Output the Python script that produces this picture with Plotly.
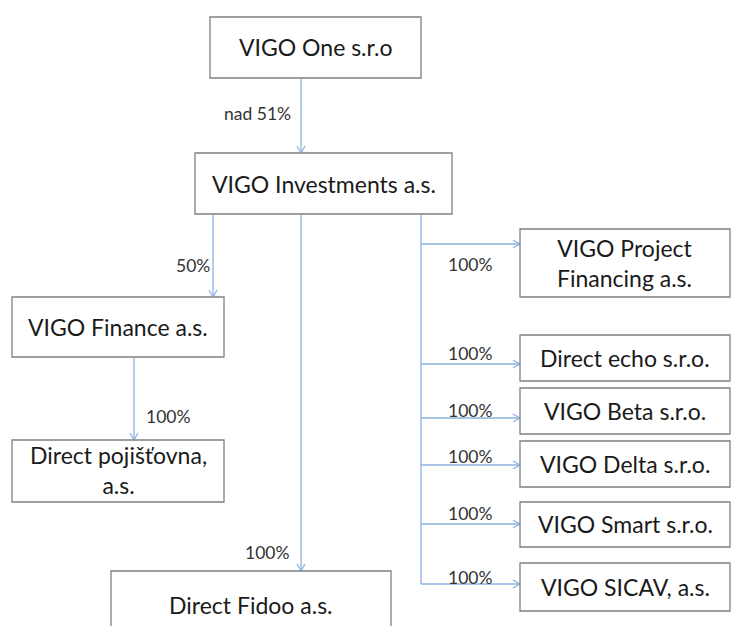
import plotly.graph_objects as go

# ---- data ----
companies = ["VIGO One s.r.o", "VIGO Investments a.s.", "VIGO Finance a.s.",
             "Direct pojišťovna,<br>a.s.", "Direct Fidoo a.s.",
             "VIGO Project<br>Financing a.s.", "Direct echo s.r.o.", "VIGO Beta s.r.o.",
             "VIGO Delta s.r.o.", "VIGO Smart s.r.o.", "VIGO SICAV, a.s."]
parents = [None, 0, 1, 2, 1, 1, 1, 1, 1, 1, 1]
shares = [None, "nad 51%", "50%", "100%", "100%", "100%", "100%", "100%", "100%", "100%", "100%"]

# ---- layout (pixel boxes: x0, x1, y0, y1) ----
boxes = [
    (210, 421, 17, 78),
    (195, 452, 153, 214),
    (12, 224, 297, 357),
    (12, 224, 440, 502),
    (111, 391, 571, 640),
    (520, 730, 229, 297),
    (520, 730, 335, 381),
    (520, 730, 388, 434),
    (520, 730, 441, 487),
    (520, 730, 502, 547),
    (520, 730, 563, 611),
]
text_y = [47, 184, 327, 470, 605, 263, 358, 411, 464, 524, 587]
vert_x = {1: 301, 2: 213, 3: 134, 4: 301}
spine_x = 421
side_arrow_y = {5: 244, 6: 364, 7: 418, 8: 465, 9: 524, 10: 584}
label_pos = {1: (257, 113), 2: (193, 265), 3: (168, 416), 4: (267, 552),
             5: (470, 264), 6: (470, 353), 7: (470, 410), 8: (470, 456),
             9: (470, 513), 10: (470, 577)}

LINE = "#8db3e2"
BORDER = "#808080"
TXT = "#1a1a1a"
FONT = "Lato, 'Open Sans', sans-serif"
W, H = 732, 626

fig = go.Figure()
shapes = []

def arrowhead(x, y, direction):
    s, w = 7, 4
    if direction == "down":
        return f"M {x-w},{y-s} L {x},{y} L {x+w},{y-s}"
    return f"M {x-s},{y-w} L {x},{y} L {x-s},{y+w}"

for i, (x0, x1, y0, y1) in enumerate(boxes):
    shapes.append(dict(type="rect", x0=x0, x1=x1, y0=y0, y1=y1,
                       line=dict(color=BORDER, width=1.3), fillcolor="white", layer="above"))
    fig.add_annotation(x=(x0 + x1) / 2, y=text_y[i], text=companies[i], showarrow=False,
                       font=dict(family=FONT, size=23, color=TXT), align="center")

for i, p in enumerate(parents):
    if p is None:
        continue
    pb = boxes[p]
    cb = boxes[i]
    if i in vert_x:
        x = vert_x[i]
        shapes.append(dict(type="line", x0=x, x1=x, y0=pb[3], y1=cb[2],
                           line=dict(color=LINE, width=1.3), layer="below"))
        shapes.append(dict(type="path", path=arrowhead(x, cb[2], "down"),
                           line=dict(color=LINE, width=1.3), layer="below"))
    else:
        y = side_arrow_y[i]
        shapes.append(dict(type="line", x0=spine_x, x1=cb[0], y0=y, y1=y,
                           line=dict(color=LINE, width=1.3), layer="below"))
        shapes.append(dict(type="path", path=arrowhead(cb[0], y, "right"),
                           line=dict(color=LINE, width=1.3), layer="below"))
    lx, ly = label_pos[i]
    fig.add_annotation(x=lx, y=ly, text=shares[i], showarrow=False,
                       font=dict(family=FONT, size=17.5, color="#333333"))

spine_bottom = max(side_arrow_y.values())
shapes.append(dict(type="line", x0=spine_x, x1=spine_x, y0=boxes[1][3], y1=spine_bottom,
                   line=dict(color=LINE, width=1.3), layer="below"))

fig.update_layout(
    width=W, height=H, margin=dict(l=0, r=0, t=0, b=0),
    paper_bgcolor="white", plot_bgcolor="white", shapes=shapes,
    xaxis=dict(range=[0, W], visible=False, fixedrange=True),
    yaxis=dict(range=[H, 0], visible=False, fixedrange=True),
    showlegend=False,
)
fig.write_html("out.html",
               post_script="document.body.style.margin='0';document.body.style.overflow='hidden';"
                           "document.documentElement.style.overflow='hidden';",
               config={"displayModeBar": False})
